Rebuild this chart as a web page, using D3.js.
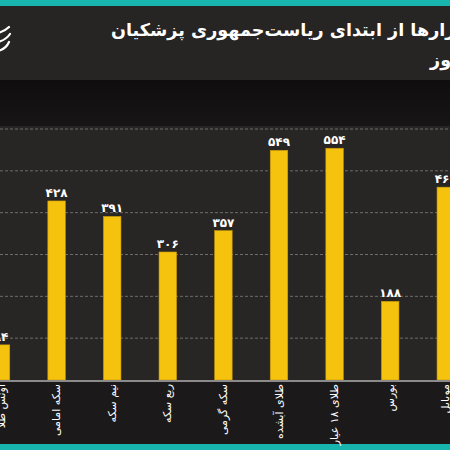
<!DOCTYPE html>
<html>
<head>
<meta charset="utf-8">
<script src="https://cdn.jsdelivr.net/npm/d3@7"></script>
<style>
  html, body { margin: 0; padding: 0; background: #1b1919; }
  svg { display: block; }
  text { font-family: "DejaVu Sans", "Noto Sans", sans-serif; }
</style>
</head>
<body>
<div id="chart"></div>
<script>
const categories = ["اونس طلا", "سکه امامی", "نیم سکه", "ربع سکه", "سکه گرمی", "طلای آبشده", "طلای ۱۸ عیار", "بورس", "موبایل"];
const values = [84, 428, 391, 306, 357, 549, 554, 188, 461];
const valueLabels = ["۸۴", "۴۲۸", "۳۹۱", "۳۰۶", "۳۵۷", "۵۴۹", "۵۵۴", "۱۸۸", "۴۶۱"];
const gridTicks = [100, 200, 300, 400, 500, 600];
const titleLines = ["بازدهی بازارها از ابتدای ریاست‌جمهوری پزشکیان", "تا امروز"];

const W = 450, H = 450;
const svg = d3.select("#chart").append("svg").attr("width", W).attr("height", H);

// backgrounds
svg.append("rect").attr("x", 0).attr("y", 0).attr("width", W).attr("height", H).attr("fill", "#1b1919");
svg.append("rect").attr("x", 0).attr("y", 0).attr("width", W).attr("height", 80).attr("fill", "#272424");
svg.append("rect").attr("x", 0).attr("y", 0).attr("width", W).attr("height", 6).attr("fill", "#17b5ad");
const grad = svg.append("defs").append("linearGradient").attr("id", "band").attr("x1", 0).attr("x2", 0).attr("y1", 0).attr("y2", 1);
grad.append("stop").attr("offset", "0").attr("stop-color", "#0f0d0d");
grad.append("stop").attr("offset", "1").attr("stop-color", "#171515");
svg.append("rect").attr("x", 0).attr("y", 80).attr("width", W).attr("height", 46).attr("fill", "url(#band)");
svg.append("rect").attr("x", 0).attr("y", 126).attr("width", W).attr("height", 254).attr("fill", "#282525");
svg.append("rect").attr("x", 0).attr("y", 444).attr("width", W).attr("height", 6).attr("fill", "#17b5ad");

// logo
const logo = svg.append("g").attr("fill", "none").attr("stroke", "#ffffff").attr("stroke-width", 2.2).attr("stroke-linecap", "round");
logo.append("path").attr("d", "M-2,33 Q5,31 9,27");
logo.append("path").attr("d", "M-2,42 Q6,40 10,34");
logo.append("path").attr("d", "M-2,51 Q6,49 9,42");

// title
const title = svg.append("g").attr("fill", "#ffffff").attr("font-weight", "bold").attr("font-size", 17.6);
title.append("text").attr("x", 111).attr("y", 36).attr("text-anchor", "start").text(titleLines[0]);
title.append("text").attr("x", 430).attr("y", 66).attr("text-anchor", "start").text(titleLines[1]);

// scales
const x = d3.scaleBand().domain(categories).range([-26.8, 473.6]).paddingInner(0.685).paddingOuter(0.3425);
const y = d3.scaleLinear().domain([0, 600]).range([380, 129]);

// gridlines
svg.append("g").selectAll("line").data(gridTicks).join("line")
  .attr("x1", 0).attr("x2", W)
  .attr("y1", d => y(d)).attr("y2", d => y(d))
  .attr("stroke", "#6f6c6c").attr("stroke-width", 1).attr("stroke-dasharray", "3,2");

// bars
svg.append("g").selectAll("rect").data(values).join("rect")
  .attr("x", (d, i) => x(categories[i]))
  .attr("width", x.bandwidth())
  .attr("y", d => y(d))
  .attr("height", d => y(0) - y(d))
  .attr("fill", "#f5c20e")
  .attr("stroke", "#c99a08").attr("stroke-width", 0.6);

// baseline
svg.append("line").attr("x1", 0).attr("x2", W).attr("y1", y(0) + 1).attr("y2", y(0) + 1)
  .attr("stroke", "#8c8a8a").attr("stroke-width", 2);

// value labels
svg.append("g").selectAll("text").data(values).join("text")
  .attr("x", (d, i) => x(categories[i]) + x.bandwidth() / 2)
  .attr("y", d => y(d) - 4)
  .attr("text-anchor", "middle")
  .attr("fill", "#ffffff").attr("font-weight", "bold").attr("font-size", 12)
  .text((d, i) => valueLabels[i]);

// category labels (rotated)
svg.append("g").selectAll("text").data(categories).join("text")
  .attr("transform", d => `translate(${x(d) + x.bandwidth() / 2},384) rotate(-90)`)
  .attr("text-anchor", "end")
  .attr("dominant-baseline", "central")
  .attr("fill", "#ffffff").attr("font-size", 11)
  .text(d => d);
</script>
</body>
</html>
